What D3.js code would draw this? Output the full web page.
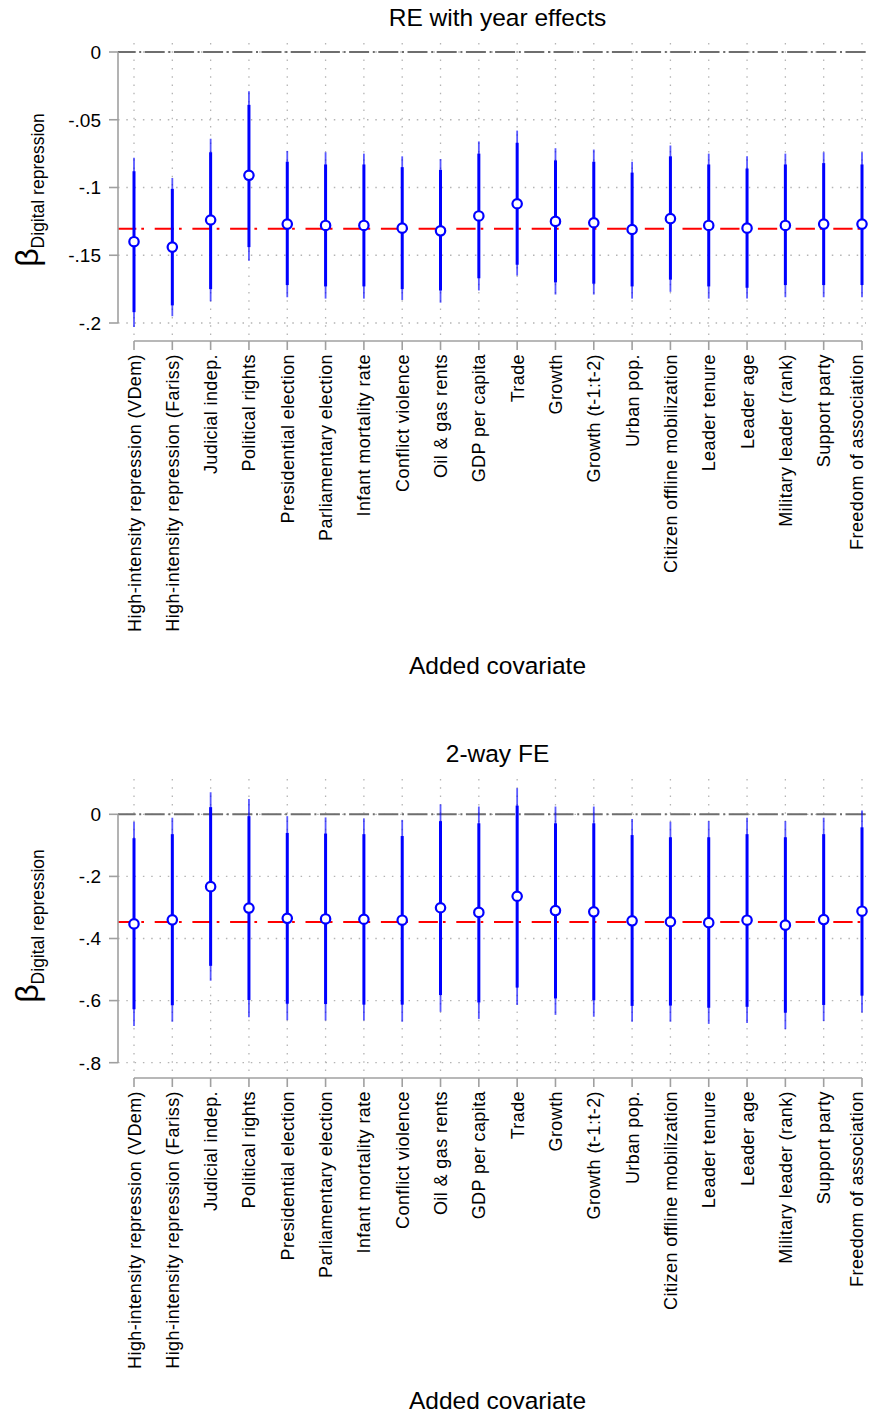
<!DOCTYPE html>
<html>
<head>
<meta charset="utf-8">
<script src="https://cdn.jsdelivr.net/npm/d3@7"></script>
<style>
    body { margin: 0; background: #fff; }
    svg { display: block; font-family: "Liberation Sans", Arial, sans-serif; }
</style>
</head>
<body>
<div id="chart"></div>
<script>
'use strict';

var covariates = ['High-intensity repression (VDem)', 'High-intensity repression (Fariss)', 'Judicial indep.', 'Political rights', 'Presidential election', 'Parliamentary election', 'Infant mortality rate', 'Conflict violence', 'Oil & gas rents', 'GDP per capita', 'Trade', 'Growth', 'Growth (t-1:t-2)', 'Urban pop.', 'Citizen offline mobilization', 'Leader tenure', 'Leader age', 'Military leader (rank)', 'Support party', 'Freedom of association'];

// RE with year effects
var reCoef = [-0.140, -0.144, -0.124, -0.091, -0.127, -0.128, -0.128, -0.130, -0.132, -0.121, -0.112, -0.125, -0.126, -0.131, -0.123, -0.128, -0.130, -0.128, -0.127, -0.127];
var reLo95 = [-0.203, -0.195, -0.184, -0.154, -0.181, -0.182, -0.182, -0.183, -0.185, -0.176, -0.165, -0.179, -0.179, -0.182, -0.177, -0.182, -0.182, -0.181, -0.181, -0.181];
var reLo90 = [-0.192, -0.187, -0.175, -0.144, -0.172, -0.173, -0.173, -0.175, -0.176, -0.167, -0.157, -0.170, -0.171, -0.173, -0.168, -0.173, -0.174, -0.172, -0.172, -0.172];
var reHi90 = [-0.088, -0.101, -0.074, -0.039, -0.081, -0.083, -0.083, -0.085, -0.087, -0.075, -0.067, -0.080, -0.081, -0.089, -0.077, -0.083, -0.086, -0.083, -0.082, -0.083];
var reHi95 = [-0.078, -0.093, -0.064, -0.029, -0.073, -0.074, -0.075, -0.077, -0.079, -0.066, -0.058, -0.071, -0.072, -0.081, -0.069, -0.075, -0.077, -0.075, -0.074, -0.074];
var reBaseline = -0.1305;
var reTicks = [0, -0.05, -0.1, -0.15, -0.2];

// 2-way FE
var feCoef = [-0.353, -0.340, -0.233, -0.302, -0.335, -0.337, -0.338, -0.341, -0.301, -0.316, -0.264, -0.310, -0.314, -0.343, -0.346, -0.349, -0.341, -0.357, -0.339, -0.312];
var feLo95 = [-0.682, -0.668, -0.536, -0.654, -0.663, -0.664, -0.664, -0.668, -0.636, -0.659, -0.614, -0.646, -0.652, -0.668, -0.668, -0.675, -0.672, -0.692, -0.666, -0.638];
var feLo90 = [-0.628, -0.615, -0.488, -0.598, -0.610, -0.611, -0.613, -0.613, -0.582, -0.606, -0.558, -0.593, -0.599, -0.617, -0.616, -0.623, -0.620, -0.639, -0.614, -0.584];
var feHi90 = [-0.077, -0.064, 0.023, -0.006, -0.060, -0.062, -0.064, -0.070, -0.022, -0.029, 0.028, -0.029, -0.029, -0.067, -0.074, -0.074, -0.064, -0.074, -0.064, -0.042];
var feHi95 = [-0.024, -0.011, 0.071, 0.049, -0.006, -0.010, -0.013, -0.018, 0.032, 0.025, 0.084, 0.025, 0.025, -0.015, -0.024, -0.022, -0.011, -0.022, -0.011, 0.012];
var feBaseline = -0.347;
var feTicks = [0, -0.2, -0.4, -0.6, -0.8];

var width = 870;
var height = 1416;

var BLUE = '#0000ff';
var GRID = '#b4b4b4';
var AXIS = '#a0a0a0';

var svg = d3.select('#chart').append('svg')
    .attr('width', width)
    .attr('height', height);

svg.append('rect').attr('width', width).attr('height', height).attr('fill', '#fff');

// stata style: -.05 rather than -0.05
var tickFormat = function tickFormat(v) {
    if (v === 0) return '0';
    return String(v).replace('0.', '.');
};

var Panel = function Panel(opts) {

    var g = svg.append('g').attr('class', 'panel');

    var plot = { left: 118, right: 866, top: opts.plotTop, bottom: opts.plotBottom };

    var x = d3.scaleLinear().domain([1, covariates.length]).range([134, 862]);
    var y = d3.scaleLinear().domain([0, opts.ticks[opts.ticks.length - 1]]).range([opts.zeroPx, opts.lowPx]);

    var rows = covariates.map(function (c, i) {
        return { name: c, i: i + 1, b: opts.coef[i], lo95: opts.lo95[i], lo90: opts.lo90[i], hi90: opts.hi90[i], hi95: opts.hi95[i] };
    });

    // title
    g.append('text')
        .attr('x', 497.5).attr('y', opts.titleY)
        .attr('text-anchor', 'middle')
        .attr('font-size', 24.5)
        .attr('fill', '#000')
        .text(opts.title);

    // grid
    var grid = g.append('g').attr('class', 'grid');
    grid.selectAll('.hgrid').data(opts.ticks).enter().append('line')
        .attr('x1', plot.left).attr('x2', plot.right)
        .attr('y1', function (d) { return y(d); })
        .attr('y2', function (d) { return y(d); })
        .attr('stroke', GRID).attr('stroke-width', 1.3)
        .attr('stroke-dasharray', '1.5,6.8');

    grid.selectAll('.vgrid').data(rows).enter().append('line')
        .attr('x1', function (d) { return x(d.i); })
        .attr('x2', function (d) { return x(d.i); })
        .attr('y1', plot.top).attr('y2', plot.bottom)
        .attr('stroke', GRID).attr('stroke-width', 1.3)
        .attr('stroke-dasharray', '1.5,6.8');

    // reference lines
    g.append('line')
        .attr('x1', plot.left).attr('x2', plot.right)
        .attr('y1', y(0)).attr('y2', y(0))
        .attr('stroke', '#6e6e6e').attr('stroke-width', 2)
        .attr('stroke-dasharray', '20,3.7,2,3.5')
        .attr('stroke-dashoffset', 2.5);

    g.append('line')
        .attr('x1', plot.left).attr('x2', plot.right)
        .attr('y1', y(opts.baseline)).attr('y2', y(opts.baseline))
        .attr('stroke', '#ff0000').attr('stroke-width', 2)
        .attr('stroke-dasharray', '19.3,5,2.7,10.7')
        .attr('stroke-dashoffset', 1);

    // y axis
    var yAxis = g.append('g').attr('class', 'y-axis');
    yAxis.append('line')
        .attr('x1', plot.left).attr('x2', plot.left)
        .attr('y1', y(0)).attr('y2', y(opts.ticks[opts.ticks.length - 1]))
        .attr('stroke', AXIS).attr('stroke-width', 1.6);
    yAxis.selectAll('.tick').data(opts.ticks).enter().append('line')
        .attr('x1', plot.left - 9).attr('x2', plot.left)
        .attr('y1', function (d) { return y(d); })
        .attr('y2', function (d) { return y(d); })
        .attr('stroke', AXIS).attr('stroke-width', 1.6);
    yAxis.selectAll('.label').data(opts.ticks).enter().append('text')
        .attr('x', 101)
        .attr('y', function (d) { return y(d); })
        .attr('dy', '0.36em')
        .attr('text-anchor', 'end')
        .attr('font-size', 19)
        .text(tickFormat);

    // y title: beta with subscript
    var yMid = (plot.top + plot.bottom) / 2;
    var yTitle = g.append('text')
        .attr('transform', 'translate(38,' + yMid + ') rotate(-90)')
        .attr('text-anchor', 'middle');
    yTitle.append('tspan').attr('font-size', 32).text('\u03B2');
    yTitle.append('tspan').attr('font-size', 17.5).attr('dy', 6).text('Digital repression');

    // x axis
    var xAxis = g.append('g').attr('class', 'x-axis');
    xAxis.append('line')
        .attr('x1', x(1)).attr('x2', x(covariates.length))
        .attr('y1', opts.axisY).attr('y2', opts.axisY)
        .attr('stroke', AXIS).attr('stroke-width', 1.6);
    xAxis.selectAll('.tick').data(rows).enter().append('line')
        .attr('x1', function (d) { return x(d.i); })
        .attr('x2', function (d) { return x(d.i); })
        .attr('y1', opts.axisY).attr('y2', opts.axisY + 9)
        .attr('stroke', AXIS).attr('stroke-width', 1.6);
    // last label is pulled in a little so it stays inside the page
    xAxis.selectAll('.label').data(rows).enter().append('text')
        .attr('transform', function (d) {
            return 'translate(' + Math.min(x(d.i) + 6.5, 863) + ',' + (opts.axisY + 13) + ') rotate(-90)';
        })
        .attr('text-anchor', 'end')
        .attr('font-size', 18)
        .attr('letter-spacing', 0.4)
        .text(function (d) { return d.name; });

    g.append('text')
        .attr('x', 497.5).attr('y', opts.xTitleY)
        .attr('text-anchor', 'middle')
        .attr('font-size', 24.5)
        .text('Added covariate');

    // confidence intervals and point estimates
    var data = g.append('g').attr('class', 'data');
    data.selectAll('.ci95').data(rows).enter().append('line')
        .attr('x1', function (d) { return x(d.i); })
        .attr('x2', function (d) { return x(d.i); })
        .attr('y1', function (d) { return y(d.lo95); })
        .attr('y2', function (d) { return y(d.hi95); })
        .attr('stroke', BLUE).attr('stroke-opacity', 0.65).attr('stroke-width', 1.8);
    data.selectAll('.ci90').data(rows).enter().append('line')
        .attr('x1', function (d) { return x(d.i); })
        .attr('x2', function (d) { return x(d.i); })
        .attr('y1', function (d) { return y(d.lo90); })
        .attr('y2', function (d) { return y(d.hi90); })
        .attr('stroke', BLUE).attr('stroke-width', 3);
    data.selectAll('.point').data(rows).enter().append('circle')
        .attr('cx', function (d) { return x(d.i); })
        .attr('cy', function (d) { return y(d.b); })
        .attr('r', 4.7)
        .attr('fill', '#fff')
        .attr('stroke', BLUE).attr('stroke-width', 2.2);
};

Panel({
    title: 'RE with year effects', titleY: 26,
    plotTop: 43, plotBottom: 337, axisY: 341,
    zeroPx: 52, lowPx: 323, ticks: reTicks,
    coef: reCoef, lo95: reLo95, lo90: reLo90, hi90: reHi90, hi95: reHi95,
    baseline: reBaseline, xTitleY: 674
});

Panel({
    title: '2-way FE', titleY: 762,
    plotTop: 779, plotBottom: 1073, axisY: 1078,
    zeroPx: 814.3, lowPx: 1062.7, ticks: feTicks,
    coef: feCoef, lo95: feLo95, lo90: feLo90, hi90: feHi90, hi95: feHi95,
    baseline: feBaseline, xTitleY: 1409
});
</script>
</body>
</html>
